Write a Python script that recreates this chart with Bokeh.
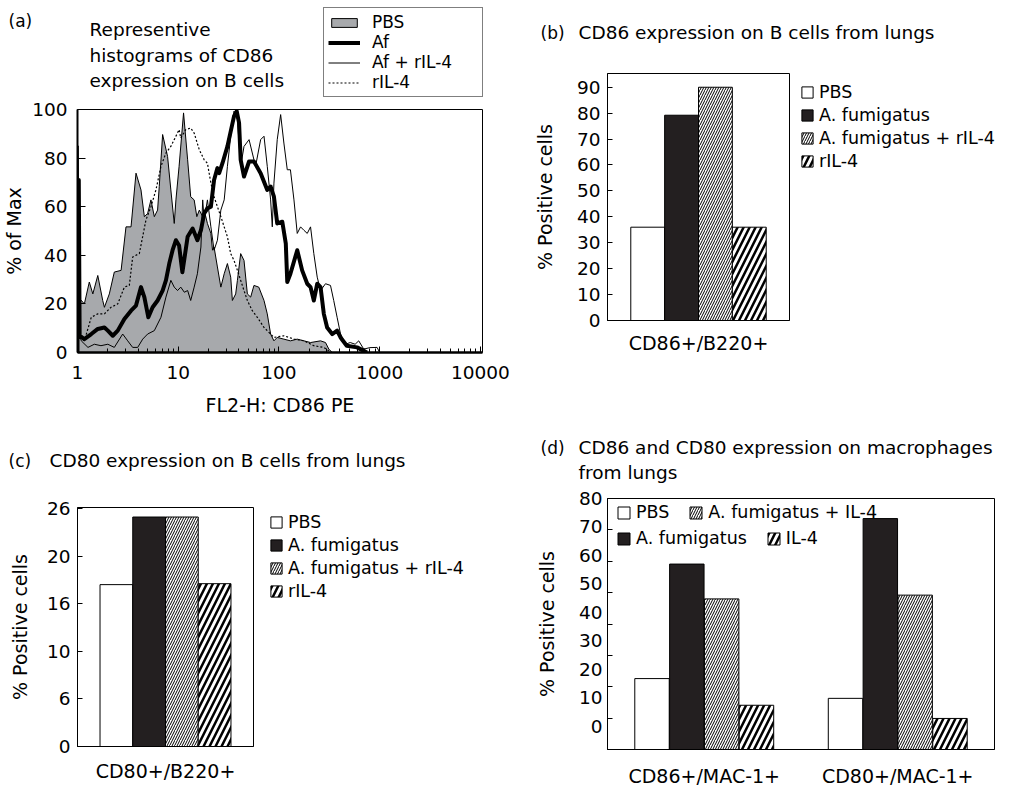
from bokeh.plotting import figure
from bokeh.layouts import row, column
from bokeh.models import (Range1d, FactorRange, Legend, LegendItem, LinearAxis,
                          FixedTicker, ColumnDataSource, NumeralTickFormatter)
from bokeh.transform import dodge
from bokeh.core.properties import value
from bokeh.embed import file_html
from bokeh.resources import INLINE

FONT = "DejaVu Sans"
BLACK = "#231f20"
GRAY = "#a7a9ac"
NAN = float("nan")

# ---------------- data ----------------
# (a) histograms: FL2-H (CD86 PE) channel value and % of max
pbs_x = [1.0, 1.0, 1.03, 1.06, 1.17, 1.31, 1.42, 1.59, 1.78, 1.85, 2.07, 2.32, 2.71, 3.03, 3.40,
         3.81, 4.27, 4.61, 4.97, 5.36, 5.79, 6.24, 6.48, 7.00, 7.84, 8.45, 9.13, 9.49, 10.2, 11.3,
         12.4, 13.3, 14.4, 15.3, 16.2, 17.5, 18.1, 19.5, 21.1, 21.9, 22.7, 24.5, 26.5, 28.6, 30.8,
         33.2, 34.5, 37.2, 38.7, 41.7, 45.0, 48.6, 52.4, 56.5, 63.1, 71.1, 76.6, 82.7, 89.2, 96.2,
         112, 130, 152, 177, 206, 259, 290, 313, 338]
pbs_y = [0, 51, 50, 22, 20.0, 29.0, 24.1, 31.7, 21.4, 18.6, 24.1, 33.1, 33.8, 51.7, 51.7,
         73.8, 66.9, 55.9, 57.2, 62.8, 55.9, 58.6, 68.3, 89.7, 80.7, 66.9, 53.1, 62.8, 76.6, 98.6,
         79.3, 64.1, 62.8, 55.9, 58.6, 55.9, 58.6, 53.1, 49.0, 42.1, 43.4, 35.2, 26.9, 32.4, 36.6,
         31.0, 21.4, 24.1, 29.7, 40.7, 37.9, 24.1, 22.8, 27.6, 26.9, 21.4, 15.9, 7.6, 4.8, 6.2,
         5.5, 4.8, 5.5, 4.8, 4.1, 4.8, 4.1, 1.4, 0]

af_x = [1.0, 1.0, 1.03, 1.05, 1.17, 1.37, 1.59, 1.85, 2.0, 2.24, 2.51, 2.92, 3.40, 3.81, 4.27,
        4.61, 5.05, 5.57, 6.24, 7.00, 7.55, 8.15, 8.79, 9.49, 10.2, 11.0, 12.4, 13.9, 15.5, 16.8,
        18.1, 19.5, 21.1, 22.7, 24.5, 25.5, 27.5, 30.8, 35.8, 38.1, 40.2, 41.7, 45.0, 50.5, 56.5,
        65.8, 76.6, 82.7, 89.2, 96.2, 108, 117, 121, 130, 152, 170, 191, 206, 222, 240, 259, 279,
        301, 338, 378, 409, 471, 597, 644, 749]
af_y = [0, 71, 71, 6.9, 5.5, 7.6, 9.7, 10.3, 9.0, 6.9, 9.0, 13.8, 17.2, 19.3, 26.9,
        22.8, 14.5, 18.6, 21.4, 25.5, 29.7, 36.6, 42.1, 46.2, 44.0, 33.0, 47.6, 51.0, 46.2, 50.3,
        57.2, 59.3, 60.0, 71.0, 75.9, 73.8, 77.9, 84.8, 97.2, 99.3, 94.5, 79.3, 72.4, 78.6, 78.6,
        73.8, 66.9, 68.3, 64.1, 53.1, 53.8, 44.8, 29.0, 32.4, 42.1, 33.8, 28.3, 26.9, 21.4, 28.3, 26.9, 15.9,
        10.3, 7.6, 9.0, 6.2, 2.8, 2.1, 1.4, 0]

afil_x = [1.0, 1.0, 1.02, 1.04, 1.09, 1.27, 1.47, 1.71, 2.0, 2.32, 2.81, 3.15, 3.53, 3.96, 4.44,
          4.97, 5.79, 6.74, 7.55, 8.45, 9.13, 9.85, 10.6, 11.5, 12.4, 13.3, 14.4, 15.5, 16.8, 17.5,
          18.1, 19.5, 21.1, 22.7, 24.5, 26.5, 28.6, 30.8, 33.2, 35.8, 38.7, 41.7, 45.0, 50.5, 54.4,
          58.6, 65.8, 71.1, 76.6, 82.7, 85.9, 89.2, 96.2, 104, 112, 121, 130, 141, 152, 164, 177,
          191, 206, 222, 240, 259, 290, 325, 350, 378, 409, 457, 511, 571, 620, 695, 800, 943, 1000]
afil_y = [0, 85, 85, 8, 4.8, 2.1, 3.4, 2.8, 3.4, 2.1, 7.6, 4.8, 2.1, 2.1, 5.5,
          7.6, 9.0, 14.5, 22.8, 29.7, 26.9, 25.5, 26.9, 24.8, 25.5, 21.4, 26.9, 32.4, 43.4, 62.8,
          54.5, 62.8, 51.7, 42.1, 46.2, 58.6, 62.8, 76.6, 89.0, 99.3, 95.9, 76.6, 84.8, 87.6, 82.1,
          76.6, 87.6, 89.0, 76.6, 62.8, 51.7, 69.7, 87.6, 97.9, 86.2, 75.2, 75.2, 62.8, 49.0, 51.7, 50.3,
          49.0, 51.7, 40.7, 31.0, 25.5, 28.3, 27.6, 21.4, 14.5, 7.6, 3.4, 4.1, 3.4, 4.8, 1.4, 2.0, 2.1, 0]

il_x = [1.05, 1.17, 1.37, 1.59, 1.85, 2.15, 2.51, 2.92, 3.27, 3.53, 4.11, 4.78, 5.36, 6.01, 6.74,
        7.55, 8.45, 9.13, 10.2, 10.6, 11.9, 13.3, 14.4, 16.2, 18.1, 19.5, 21.1, 22.7, 24.5, 26.5,
        28.6, 30.8, 33.2, 35.8, 38.7, 41.7, 45.0, 48.6, 54.4, 61.0, 71.1, 82.7, 89.2, 112, 141,
        177, 222, 279, 313]
il_y = [6.0, 4.8, 14.5, 15.9, 15.9, 18.6, 20.0, 26.9, 27.6, 39.3, 40.7, 54.5, 60.0, 66.9, 76.6,
        82.1, 84.8, 87.6, 91.7, 88.3, 91.7, 92.4, 90.3, 83.4, 79.3, 77.9, 69.7, 64.1, 60.0, 55.9,
        51.7, 47.6, 40.7, 37.9, 33.8, 29.7, 25.5, 21.4, 17.2, 14.5, 10.3, 7.6, 6.2, 6.9, 5.5,
        4.8, 2.8, 2.1, 0.7]

a_y_ticks = [0, 20, 40, 60, 80, 100]
a_series = ["PBS", "Af", "Af + rIL-4", "rIL-4"]

# (b) CD86 on B cells
b_groups = ["PBS", "A. fumigatus", "A. fumigatus + rIL-4", "rIL-4"]
b_cats = ["CD86+/B220+"]
b_values = [36.0, 79.2, 90.0, 36.0]
b_ticks = [0, 10, 20, 30, 40, 50, 60, 70, 80, 90]

# (c) CD80 on B cells (printed tick labels are irregular)
c_groups = ["PBS", "A. fumigatus", "A. fumigatus + rIL-4", "rIL-4"]
c_cats = ["CD80+/B220+"]
c_values = [17.0, 24.1, 24.1, 17.1]
c_tick_values = [0, 5, 10, 15, 20, 25]
c_tick_labels = ["0", "6", "10", "16", "20", "26"]

# (d) macrophages
d_groups = ["PBS", "A. fumigatus", "A. fumigatus + IL-4", "IL-4"]
d_cats = ["CD86+/MAC-1+", "CD80+/MAC-1+"]
d_pbs = [22.6, 16.3]
d_af = [59.1, 73.6]
d_afil = [48.0, 49.2]
d_il = [14.1, 9.9]
d_ticks = [0, 10, 20, 30, 40, 50, 60, 70, 80]

# ---------------- helpers ----------------
BAR_STYLES = [
    dict(fill_color="white"),
    dict(fill_color=BLACK),
    dict(fill_color="white", hatch_pattern="/", hatch_color="black", hatch_scale=5, hatch_weight=1),
    dict(fill_color="white", hatch_pattern="/", hatch_color="black", hatch_scale=12, hatch_weight=2.5),
]
WL, WR = 510, 485


def header(width, height):
    h = figure(width=width, height=height, x_range=Range1d(0, width), y_range=Range1d(height, 0),
               x_axis_location=None, y_axis_location=None, toolbar_location=None,
               output_backend="svg", min_border=0, min_border_left=0, min_border_right=0,
               min_border_top=0, min_border_bottom=0, outline_line_color=None, frame_align=False)
    h.grid.visible = False
    return h


def head_text(h, xs, ys, texts, size="18.5px"):
    h.text(x=xs, y=ys, text=texts, text_font=value(FONT), text_font_size=value(size),
           text_baseline="middle", text_align="left", text_color="black")


def base_style(p):
    p.grid.visible = False
    p.outline_line_color = "black"
    p.outline_line_width = 1
    p.background_fill_color = "white"
    p.border_fill_color = "white"
    for ax in p.axis:
        ax.axis_line_color = "black"
        ax.major_tick_line_color = "black"
        ax.major_tick_in = 5
        ax.major_tick_out = 0
        ax.minor_tick_line_color = None
        ax.major_label_text_font = FONT
        ax.major_label_text_font_size = "18.5px"
        ax.major_label_text_color = "black"
        ax.axis_label_text_font = FONT
        ax.axis_label_text_font_size = "19px"
        ax.axis_label_text_font_style = "normal"
        ax.axis_label_text_color = "black"


def bar_legend(items, loc, orientation="vertical", spacing=3, gw=14, gh=14):
    return Legend(items=items, location=loc, orientation=orientation, border_line_color=None,
                  background_fill_alpha=0, padding=0, margin=0, spacing=spacing,
                  glyph_width=gw, glyph_height=gh, label_height=20, label_standoff=5,
                  label_text_font=FONT, label_text_font_size="17.5px", label_text_color="black")


def legend_fig(width, height, groups, loc):
    f = header(width, height)
    items = []
    for g, st in zip(groups, BAR_STYLES):
        r = f.vbar(x=[NAN], top=[NAN], width=1, line_color="black", line_width=1, **st)
        items.append(LegendItem(label=g, renderers=[r]))
    f.add_layout(bar_legend(items, loc, spacing=3))
    return f


def plot_fig(width, height, left, right, top, bottom, **kw):
    return figure(width=width, height=height, output_backend="svg", toolbar_location=None,
                  min_border_left=left, min_border_right=right, min_border_top=top,
                  min_border_bottom=bottom, frame_align=False, **kw)


# ---------------- (a) ----------------
ha = header(WL, 98)
head_text(ha, [8], [20], ["(a)"], size="17px")
head_text(ha, [89, 89, 89], [29, 55, 80],
          ["Representive", "histograms of CD86", "expression on B cells"])
k_pbs = ha.patch(x=[NAN], y=[NAN], fill_color=GRAY, line_color="black", line_width=1)
k_af = ha.line(x=[NAN], y=[NAN], line_color="black", line_width=4)
k_afil = ha.line(x=[NAN], y=[NAN], line_color="black", line_width=1)
k_il = ha.line(x=[NAN], y=[NAN], line_color="black", line_width=1.2, line_dash="2 2")
leg_a = Legend(items=[LegendItem(label=s, renderers=[r])
                      for s, r in zip(a_series, [k_pbs, k_af, k_afil, k_il])],
               location=(323, 1), border_line_color="black", border_line_width=1,
               background_fill_color="white", background_fill_alpha=1, padding=4, margin=0,
               spacing=0, glyph_width=32, glyph_height=11, label_height=19, label_width=106,
               label_standoff=12, label_text_font=FONT, label_text_font_size="17px",
               label_text_color="black")
ha.add_layout(leg_a)

pa = plot_fig(WL, 327, 76, 28, 11, 73, x_axis_type="log", x_range=Range1d(1, 10500),
              y_range=Range1d(0, 100))
pa.patch(pbs_x, pbs_y, fill_color=GRAY, line_color="black", line_width=1)
pa.line(il_x, il_y, line_color="black", line_width=1.2, line_dash="2 2")
pa.line(afil_x, afil_y, line_color="black", line_width=1)
pa.line(af_x, af_y, line_color="black", line_width=4, line_join="round")
base_style(pa)
pa.xaxis.formatter = NumeralTickFormatter(format="0")
pa.xaxis.minor_tick_line_color = "black"
pa.xaxis.minor_tick_in = 4
pa.xaxis.minor_tick_out = 0
pa.xaxis.major_tick_in = 6
pa.xaxis.axis_line_width = 2.5
pa.xaxis.major_label_standoff = 13
pa.xaxis.axis_label = "FL2-H: CD86 PE"
pa.xaxis.axis_label_standoff = 12
pa.yaxis.ticker = FixedTicker(ticks=a_y_ticks)
pa.yaxis.major_tick_in = 8
pa.yaxis.axis_line_width = 2
pa.yaxis.major_label_standoff = 10
pa.yaxis.axis_label = "% of Max"
pa.yaxis.axis_label_standoff = 4

# ---------------- (b) ----------------
hb = header(WR, 50)
head_text(hb, [30], [32], ["(b)"], size="17px")
head_text(hb, [68], [32], ["CD86 expression on B cells from lungs"])

pb = plot_fig(284, 375, 97, 5, 23, 105, x_range=FactorRange(*b_cats), y_range=Range1d(0, 95.3))
offsets = [-0.279, -0.093, 0.093, 0.279]
for v, off, st in zip(b_values, offsets, BAR_STYLES):
    src = ColumnDataSource(dict(cat=b_cats, val=[v]))
    pb.vbar(x=dodge("cat", off, range=pb.x_range), top="val", width=0.186, source=src,
            line_color="black", line_width=1, **st)
base_style(pb)
pb.yaxis.ticker = FixedTicker(ticks=b_ticks)
pb.yaxis.major_label_standoff = 7
pb.yaxis.axis_label = "% Positive cells"
pb.yaxis.axis_label_standoff = 18
pb.xaxis.major_tick_in = 0
pb.xaxis.major_label_standoff = 11
pb.xaxis.major_label_text_font_size = "19px"
lb = legend_fig(WR - 284, 375, b_groups, (6, 254))

# ---------------- (c) ----------------
hc = header(WL, 60)
head_text(hc, [8], [35], ["(c)"], size="17px")
head_text(hc, [49], [35], ["CD80 expression on B cells from lungs"])

pc = plot_fig(258, 304, 77, 5, 22, 43, x_range=FactorRange(*c_cats), y_range=Range1d(0, 25.1))
for v, off, st in zip(c_values, offsets, BAR_STYLES):
    src = ColumnDataSource(dict(cat=c_cats, val=[v]))
    pc.vbar(x=dodge("cat", off, range=pc.x_range), top="val", width=0.186, source=src,
            line_color="black", line_width=1, **st)
base_style(pc)
pc.yaxis.ticker = FixedTicker(ticks=c_tick_values)
pc.yaxis.major_label_overrides = {t: s for t, s in zip(c_tick_values, c_tick_labels)}
pc.yaxis.major_label_standoff = 7
pc.yaxis.axis_label = "% Positive cells"
pc.yaxis.axis_label_standoff = 13
pc.xaxis.major_tick_in = 0
pc.xaxis.major_label_standoff = 13
pc.xaxis.major_label_text_font_size = "19px"
lc = legend_fig(WL - 258, 304, c_groups, (11, 188))

# ---------------- (d) ----------------
hd = header(WR, 60)
head_text(hd, [30], [22], ["(d)"], size="17px")
head_text(hd, [68, 68], [22, 47], ["CD86 and CD80 expression on macrophages", "from lungs"])

pd_ = plot_fig(WR, 304, 97, 1, 13, 39, x_range=FactorRange(*d_cats), y_range=Range1d(0, 80),
               y_axis_location=None)
pd_.extra_y_ranges = {"lab": Range1d(-8.2, 80)}
d_items = []
for g, vals, off, st in zip(d_groups, [d_pbs, d_af, d_afil, d_il],
                            [-0.27, -0.09, 0.09, 0.27], BAR_STYLES):
    src = ColumnDataSource(dict(cat=d_cats, val=vals))
    r = pd_.vbar(x=dodge("cat", off, range=pd_.x_range), top="val", width=0.178, source=src,
                 line_color="black", line_width=1, **st)
    d_items.append(LegendItem(label=g, renderers=[r]))
ax_ticks = LinearAxis(ticker=FixedTicker(ticks=d_ticks))
ax_labels = LinearAxis(y_range_name="lab", ticker=FixedTicker(ticks=d_ticks),
                       axis_label="% Positive cells")
pd_.add_layout(ax_ticks, "left")
pd_.add_layout(ax_labels, "left")
base_style(pd_)
ax_ticks.major_label_text_font_size = "1px"
ax_ticks.major_label_text_color = None
ax_ticks.major_label_standoff = 0
ax_labels.axis_line_color = None
ax_labels.major_tick_line_color = None
ax_labels.major_tick_in = 0
ax_labels.major_label_standoff = 5
ax_labels.axis_label_standoff = 18
pd_.xaxis.major_tick_in = 0
pd_.xaxis.major_label_standoff = 15
pd_.xaxis.major_label_text_font_size = "19px"
pd_.add_layout(bar_legend([d_items[0], d_items[2]], (9, 227), orientation="horizontal",
                          spacing=19, gw=15, gh=15))
pd_.add_layout(bar_legend([d_items[1], d_items[3]], (9, 201), orientation="horizontal",
                          spacing=19, gw=15, gh=15))

left = column(ha, pa, hc, row(pc, lc))
right = column(hb, row(pb, lb), hd, pd_)
layout = row(left, right)
open("out.html", "w").write(file_html(layout, INLINE))
